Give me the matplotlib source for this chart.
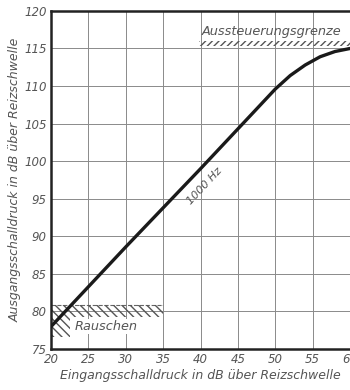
import matplotlib
matplotlib.use("Agg")
import matplotlib.pyplot as plt
import numpy as np

# Data
x_in = [20, 25, 30, 35, 40, 45, 50, 52, 54, 56, 58, 60]
y_out = [78.0, 83.3, 88.6, 93.8, 99.0, 104.3, 109.6, 111.4, 112.8, 113.9, 114.6, 115.0]
x_ticks = [20, 25, 30, 35, 40, 45, 50, 55, 60]
y_ticks = [75, 80, 85, 90, 95, 100, 105, 110, 115, 120]
noise_level = 80.9
limit_level = 116.0

plt.rcParams['hatch.linewidth'] = 1.0
plt.rcParams['hatch.color'] = '#555555'

fig = plt.figure(figsize=(3.5, 3.9), dpi=100)
ax = fig.add_axes([0.146, 0.105, 0.854, 0.867])
ax.set_xlim(20, 60)
ax.set_ylim(75, 120)

ax.set_xticks(x_ticks)
ax.set_yticks(y_ticks)
ax.grid(True, color='#8a8a8a', lw=0.7)
ax.tick_params(length=0, labelsize=8.5, colors='#555555', pad=3)
for lab in ax.get_xticklabels() + ax.get_yticklabels():
    lab.set_fontstyle('italic')

for s in ['left', 'bottom', 'top']:
    ax.spines[s].set_linewidth(1.8)
    ax.spines[s].set_color('#222222')
ax.spines['right'].set_visible(False)

# Noise band
ax.plot([20, 35], [noise_level, noise_level], color='#666666', lw=0.8, ls='--', zorder=2)
ax.fill_between([20, 35], noise_level - 1.7, noise_level, facecolor='none',
                edgecolor='#555555', hatch='\\\\\\\\', lw=0, zorder=2)
ax.fill_between([20, 22.5], noise_level - 4.3, noise_level - 1.7, facecolor='none',
                edgecolor='#555555', hatch='\\\\\\\\', lw=0, zorder=2)
ax.text(27.4, 78.0, 'Rauschen', fontsize=9.3, style='italic', color='#555555',
        ha='center', va='center', zorder=3,
        bbox=dict(facecolor='white', edgecolor='none', pad=1))

# Limit band
ax.fill_between([39.8, 60], limit_level - 0.7, limit_level, facecolor='none',
                edgecolor='#555555', hatch='/////', lw=0, zorder=2)
ax.text(40.2, 117.2, 'Aussteuerungsgrenze', fontsize=9.3, style='italic',
        color='#555555', ha='left', va='center')

# Curve
ax.plot(x_in, y_out, color='#1a1a1a', lw=2.4, zorder=4, solid_capstyle='round')
ax.text(40.6, 96.7, '1000 Hz', fontsize=8, style='italic', color='#555555',
        rotation=47, ha='center', va='center', rotation_mode='anchor')

ax.set_xlabel('Eingangsschalldruck in dB über Reizschwelle', fontsize=9,
              style='italic', color='#555555', labelpad=2)
ax.set_ylabel('Ausgangsschalldruck in dB über Reizschwelle', fontsize=9,
              style='italic', color='#555555', labelpad=2)

fig.savefig('out.png', dpi=100)
